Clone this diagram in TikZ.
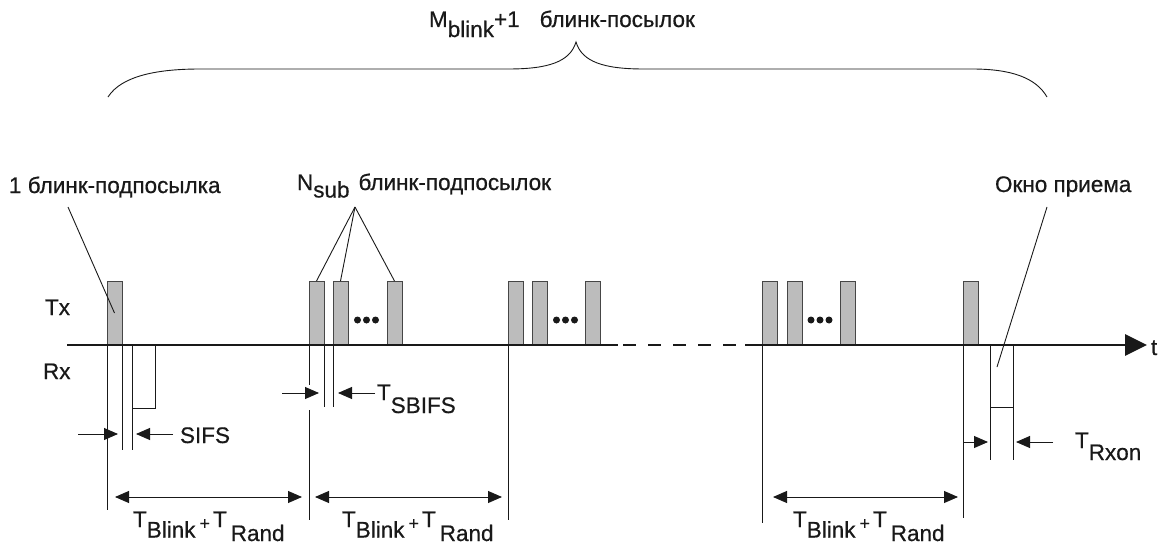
\documentclass[tikz,border=0pt]{standalone}
\usepackage{fontspec}
\setmainfont[FakeBold=0.6]{Liberation Sans}
\usetikzlibrary{arrows.meta}
\newcommand{\lo}[2][10.5pt]{\raisebox{-#1}{#2}}
\newcommand{\tbr}{T\lo{Blink}\hspace{4pt}\raisebox{-2.5pt}{\fontsize{18}{18}\selectfont +}\hspace{3pt}T\hspace{4pt}\lo[14pt]{Rand}}
\definecolor{pgrey}{RGB}{188,188,188}
\definecolor{pedge}{RGB}{70,70,70}
\definecolor{ink}{RGB}{25,25,25}
\tikzset{
 lbl/.style={font=\fontsize{22.5}{26}\selectfont, inner sep=0pt, outer sep=0pt, text=ink, anchor=base west},
 pulse/.style={draw=pedge, fill=pgrey, line width=0.9pt, minimum width=15pt, minimum height=64pt, inner sep=0pt, outer sep=0pt, anchor=south west},
 wire/.style={draw=ink, line width=0.9pt},
 axisline/.style={draw=ink, line width=2.4pt},
 arr/.style={wire, -{Triangle[length=14pt,width=12pt]}},
 darr/.style={wire, {Triangle[length=14pt,width=12pt]}-{Triangle[length=14pt,width=12pt]}},
 dot/.style={fill=ink},
}
\begin{document}
\begin{tikzpicture}[x=1pt,y=-1pt]
\useasboundingbox (0,0) rectangle (1168,546);

% ---- brace and top label
\draw[wire] (108,97) .. controls (122,75) and (160,69) .. (200,69) -- (508,69)
  .. controls (548,69) and (570,62) .. (576,42)
  .. controls (582,62) and (604,69) .. (644,69) -- (972,69)
  .. controls (1012,69) and (1036,78) .. (1047,97);
\node[lbl] (mlbl) at (429,27) {M\lo[10pt]{blink}+1\hspace{20pt}блинк-посылок};

% ---- callout labels
\node[lbl] (one) at (9,193) {1 блинк-подпосылка};
\node[lbl] (nsub) at (297,190) {N\lo[7.5pt]{sub}\hspace{9pt}блинк-подпосылок};
\node[lbl] (okno) at (995,192) {Окно приема};

% ---- Tx / Rx / t
\node[lbl] (tx) at (45,315) {Tx};
\node[lbl] (rx) at (43,379) {Rx};

% ---- pulses
\node[pulse] (p1) at (107,345) {};
\node[pulse] (p2a) at (309,345) {};
\node[pulse] (p2b) at (333,345) {};
\node[pulse] (p2c) at (387,345) {};
\node[pulse] (p3a) at (508,345) {};
\node[pulse] (p3b) at (532,345) {};
\node[pulse] (p3c) at (585,345) {};
\node[pulse] (p4a) at (762,345) {};
\node[pulse] (p4b) at (787,345) {};
\node[pulse] (p4c) at (840,345) {};
\node[pulse] (p5) at (963,345) {};

% dots
\foreach \cx in {357.5,366.5,375.5,556.5,565.5,574.5,811,820,829}
  \fill[dot] (\cx,320) circle (3.5);

% ---- callout lines
\coordinate (c1) at (68,207);
\coordinate (cn) at (355,207);
\coordinate (co) at (1047,207);
\coordinate (rxw) at (997,367);
\draw[wire] (c1) -- (p1.center);
\draw[wire] (cn) -- (p2a.north);
\draw[wire] (cn) -- (p2b.north);
\draw[wire] (cn) -- (p2c.north);
\draw[wire] (co) -- (rxw);

% ---- time axis
\coordinate (a0) at (67,345);
\coordinate (a1) at (618,345);
\coordinate (a2) at (745,345);
\coordinate (a3) at (1147,345);
\draw[axisline] (a0) -- (a1);
\draw[axisline, dash pattern=on 13pt off 12pt, dash phase=-5pt] (a1) -- (a2);
\draw[axisline, line width=2.8pt, -{Triangle[length=22pt,width=21pt]}] (a2) -- (a3);
\node[lbl] (tlbl) at (1151,355) {t};

% ---- first Rx window and SIFS
\draw[wire] (107,345) -- (107,510);
\draw[wire] (122,345) -- (122,450);
\draw[wire] (132,345) -- (132,450);
\draw[wire] (132,408) -- (155,408) -- (155,345);
\coordinate (s1) at (78,434);
\coordinate (s2) at (118,434);
\coordinate (s3) at (173,434);
\coordinate (s4) at (136,434);
\draw[arr] (s1) -- (s2);
\draw[arr] (s3) -- (s4);
\node[lbl] (sifs) at (180,443) {SIFS};

% ---- SBIFS
\draw[wire] (309,345) -- (309,385);
\draw[wire] (309,410) -- (309,520);
\draw[wire] (324,345) -- (324,407);
\draw[wire] (333,345) -- (333,407);
\coordinate (b1) at (282,393);
\coordinate (b2) at (319,393);
\coordinate (b3) at (375,393);
\coordinate (b4) at (338,393);
\draw[arr] (b1) -- (b2);
\draw[arr] (b3) -- (b4);
\node[lbl] (sbifs) at (377,400) {T\lo[13pt]{SBIFS}};

% ---- other verticals
\draw[wire] (508,345) -- (508,520);
\draw[wire] (762,345) -- (762,523);
\draw[wire] (963,345) -- (963,518);

% ---- TBlink + TRand
\coordinate (d1a) at (115,497);
\coordinate (d1b) at (302,497);
\coordinate (d2a) at (315,497);
\coordinate (d2b) at (502,497);
\coordinate (d3a) at (773,497);
\coordinate (d3b) at (958,497);
\draw[darr] (d1a) -- (d1b);
\draw[darr] (d2a) -- (d2b);
\draw[darr] (d3a) -- (d3b);
\node[lbl] (tb1) at (133,527) {\tbr};
\node[lbl] (tb2) at (342,527) {\tbr};
\node[lbl] (tb3) at (793,527) {\tbr};

% ---- receive window
\draw[wire] (990,345) -- (990,460);
\draw[wire] (1013,345) -- (1013,460);
\draw[wire] (990,407) -- (1013,407);
\coordinate (r1) at (963,442);
\coordinate (r2) at (988,442);
\coordinate (r3) at (1053,442);
\coordinate (r4) at (1016,442);
\draw[arr] (r1) -- (r2);
\draw[arr] (r3) -- (r4);
\node[lbl] (rxon) at (1075,448) {T\lo[12pt]{Rxon}};
\end{tikzpicture}
\end{document}
